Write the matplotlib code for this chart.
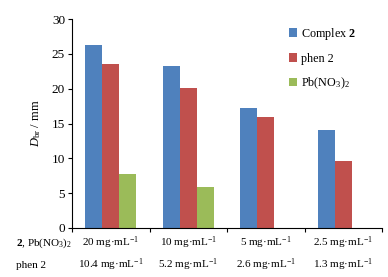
import matplotlib
matplotlib.use("Agg")
import matplotlib.pyplot as plt
import numpy as np

plt.rcParams['font.family'] = ['Liberation Serif', 'DejaVu Serif']
plt.rcParams['mathtext.fontset'] = 'custom'
plt.rcParams['mathtext.rm'] = 'Liberation Serif'
plt.rcParams['mathtext.it'] = 'Liberation Serif:italic'
plt.rcParams['mathtext.bf'] = 'Liberation Serif:bold'

series_names = [r'Complex $\mathbf{2}$', 'phen 2', r'Pb(NO$_3$)$_2$']
complex2 = [26.2, 23.2, 17.2, 14.1]
phen2 = [23.5, 20.1, 16.0, 9.6]
pbno3 = [7.8, 5.9, 0, 0]
row1_labels = ['20 mg·mL$^{-1}$', '10 mg·mL$^{-1}$', '5 mg·mL$^{-1}$', '2.5 mg·mL$^{-1}$']
row2_labels = ['10.4 mg·mL$^{-1}$', '5.2 mg·mL$^{-1}$', '2.6 mg·mL$^{-1}$', '1.3 mg·mL$^{-1}$']
colors = ['#4F81BD', '#C0504D', '#9BBB59']

W, H = 388, 277
fig = plt.figure(figsize=(W/100, H/100), dpi=100)
ax = fig.add_axes([72/W, 1-228/H, (382-72)/W, (228-19)/H])

x = np.arange(len(complex2))
bw = 0.22
for i, (vals, c, name) in enumerate(zip([complex2, phen2, pbno3], colors, series_names)):
    ax.bar(x + (i-1)*bw, vals, bw, color=c, label=name)

ax.set_xlim(-0.5, 3.5)
ax.set_ylim(0, 30)
ax.set_yticks([0, 5, 10, 15, 20, 25, 30])
ax.set_xticks([-0.5, 0.5, 1.5, 2.5, 3.5])
ax.set_xticklabels([])
ax.spines['top'].set_visible(False)
ax.spines['right'].set_visible(False)
ax.tick_params(axis='both', direction='out', length=3, width=0.8, labelsize=9.5)
ax.tick_params(axis='y', pad=2)
ax.set_ylabel(r'$D_{\mathrm{br}}$ / mm', fontsize=9, labelpad=6)

leg = ax.legend(loc='upper left', bbox_to_anchor=(0.665, 1.02), frameon=False,
                fontsize=8.7, handlelength=0.7, handleheight=0.7, labelspacing=0.9,
                handletextpad=0.3)

for xi, l1, l2 in zip(x, row1_labels, row2_labels):
    ax.annotate(l1, xy=(xi, 0), xycoords=('data', 'axes fraction'),
                xytext=(0, -15), textcoords='offset pixels', ha='center', va='center', fontsize=8)
    ax.annotate(l2, xy=(xi, 0), xycoords=('data', 'axes fraction'),
                xytext=(0, -37), textcoords='offset pixels', ha='center', va='center', fontsize=8)

fig.text(16/W, 1-243/H, r'$\mathbf{2}$, Pb(NO$_3$)$_2$', ha='left', va='center', fontsize=8)
fig.text(16/W, 1-265/H, 'phen 2', ha='left', va='center', fontsize=8)

fig.savefig('out.png', dpi=100)
